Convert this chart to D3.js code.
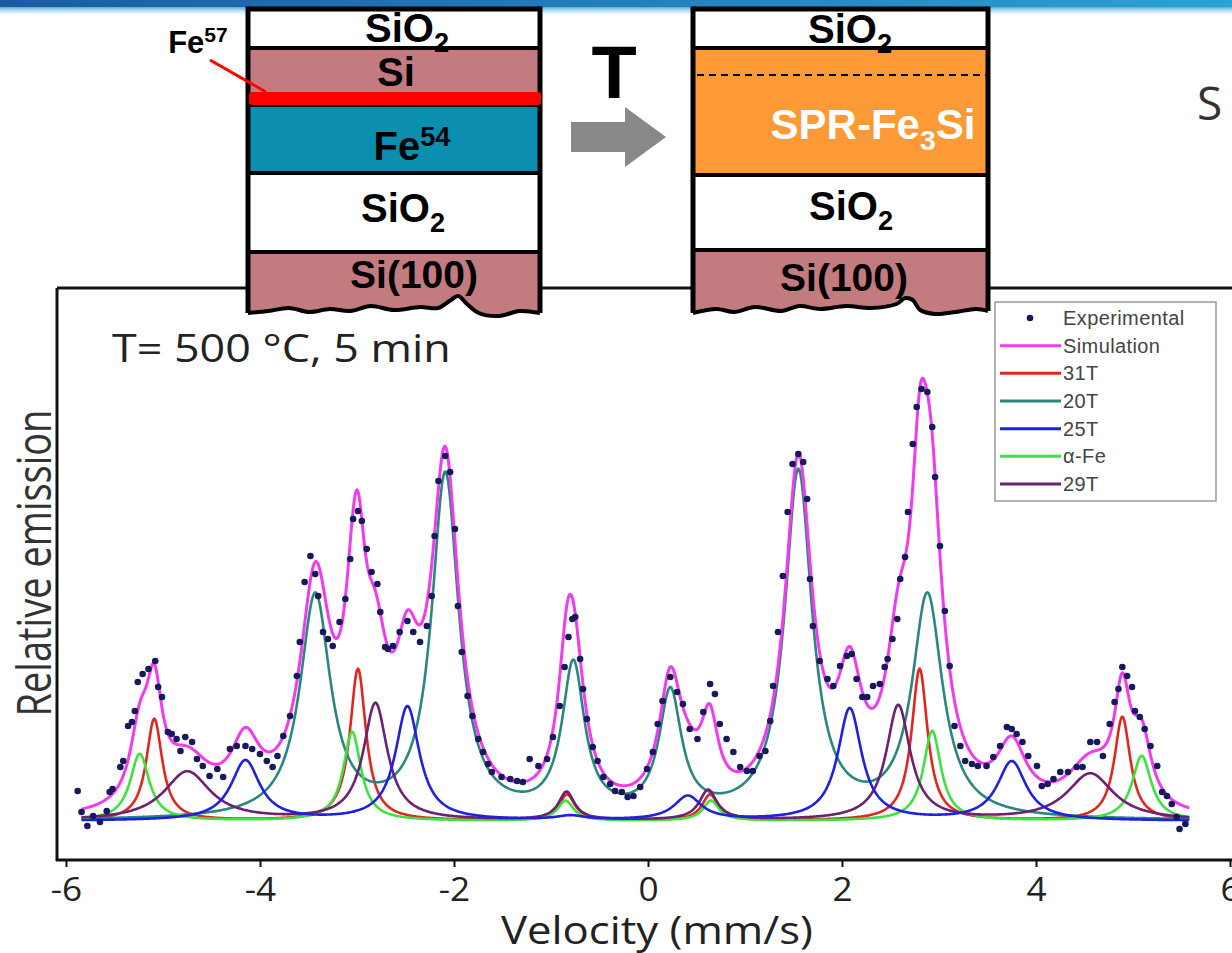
<!DOCTYPE html>
<html>
<head>
<meta charset="utf-8">
<script src="https://cdn.jsdelivr.net/npm/d3@7"></script>
<style>
  body { margin: 0; background: #fff; }
  svg { display: block; }
</style>
</head>
<body>
<svg width="1232" height="953"></svg>
<script>
// ---- data ----
const velocityTicks = [-6, -4, -2, 0, 2, 4, 6];

// sextet lines: position (mm/s), peak height (rel.), half width (mm/s)
const pos31T = [-5.09, -2.99, -0.835, 0.64, 2.80, 4.89];
const amp31T = [102, 152, 26, 26, 152, 104];
const hw31T  = [0.10, 0.10, 0.10, 0.10, 0.10, 0.10];

const pos20T = [-3.43, -2.09, -0.77, 0.23, 1.55, 2.88];
const amp20T = [222, 342, 150, 122, 345, 222];
const hw20T  = [0.19, 0.17, 0.14, 0.14, 0.17, 0.19];

const pos25T = [-4.15, -2.48, -0.80, 0.41, 2.08, 3.75];
const amp25T = [60, 114, 4, 24, 112, 59];
const hw25T  = [0.18, 0.15, 0.17, 0.17, 0.15, 0.18];

const posFe = [-5.24, -3.05, -0.85, 0.65, 2.93, 5.09];
const ampFe = [67, 89, 20, 20, 90, 65];
const hwFe  = [0.12, 0.11, 0.10, 0.10, 0.11, 0.12];

const pos29T = [-4.75, -2.81, -0.84, 0.62, 2.58, 4.56];
const amp29T = [49, 117, 28, 30, 115, 47];
const hw29T  = [0.29, 0.15, 0.10, 0.11, 0.15, 0.29];

// experimental points
const expVelocity = [-5.88,-5.84,-5.78,-5.72,-5.65,-5.58,-5.55,-5.52,-5.44,-5.41,-5.36,-5.32,-5.29,-5.26,-5.21,-5.15,-5.08,-5.05,-5.01,-4.95,
  -4.91,-4.86,-4.82,-4.77,-4.70,-4.65,-4.59,-4.52,-4.44,-4.38,-4.31,-4.24,-4.15,-4.08,-4.00,-3.93,-3.87,-3.82,-3.76,-3.69,
  -3.62,-3.59,-3.54,-3.48,-3.43,-3.40,-3.35,-3.30,-3.25,-3.18,-3.12,-3.07,-3.04,-2.99,-2.95,-2.90,-2.85,-2.79,-2.76,-2.71,
  -2.68,-2.63,-2.56,-2.48,-2.42,-2.35,-2.28,-2.23,-2.20,-2.16,-2.09,-2.04,-1.99,-1.96,-1.92,-1.86,-1.81,-1.75,-1.70,-1.65,
  -1.61,-1.51,-1.42,-1.35,-1.29,-1.22,-1.13,-1.04,-0.98,-0.91,-0.86,-0.82,-0.78,-0.75,-0.70,-0.67,-0.63,-0.57,-0.52,-0.46,
  -0.39,-0.34,-0.27,-0.21,-0.15,-0.08,-0.01,0.05,0.10,0.15,0.23,0.30,0.36,0.43,0.51,0.57,0.64,0.69,0.74,0.81,
  0.88,0.95,1.02,1.08,1.15,1.21,1.26,1.29,1.34,1.39,1.44,1.49,1.55,1.60,1.64,1.67,1.70,1.77,1.85,1.91,
  1.98,2.05,2.10,2.15,2.21,2.26,2.32,2.39,2.44,2.47,2.52,2.57,2.60,2.65,2.68,2.73,2.77,2.82,2.88,2.93,
  2.96,3.01,3.06,3.11,3.16,3.22,3.27,3.34,3.40,3.49,3.56,3.63,3.70,3.75,3.80,3.86,3.92,4.01,4.06,4.12,
  4.18,4.25,4.33,4.42,4.48,4.56,4.63,4.69,4.76,4.81,4.85,4.89,4.94,4.99,5.02,5.07,5.12,5.18,5.25,5.30,
  5.35,5.40,5.45,5.48,5.54];
const expEmission = [30,9,-5,5,-1,10,29,32,54,60,95,99,110,139,147,152,160,134,124,89,
  87,82,70,84,79,62,55,45,52,44,72,75,75,72,67,60,54,65,85,105,
  145,179,239,265,247,225,189,182,175,199,222,262,302,310,300,272,249,237,209,174,
  172,175,189,200,189,179,195,225,285,340,365,349,292,215,169,125,105,82,69,57,
  49,44,42,40,39,62,55,62,84,115,154,184,202,204,162,132,102,74,60,44,
  37,30,29,24,25,34,52,69,97,120,144,129,117,92,82,109,137,127,97,82,
  69,54,50,50,65,70,100,135,189,245,309,357,367,359,322,242,195,160,142,135,
  155,165,167,142,124,124,135,137,154,162,182,202,242,264,309,377,414,432,429,394,
  344,275,210,155,95,75,60,57,55,55,64,75,94,92,87,79,65,55,35,37,
  42,49,49,54,54,79,79,65,97,119,132,154,145,134,110,104,92,75,55,29,
  25,17,4,-8,-3];

const legendNames = ["Simulation", "31T", "20T", "25T", "α-Fe", "29T"];

// ---- drawing ----
const svg = d3.select("svg");
const width = +svg.attr("width");

const colors = {
  "Simulation": "#ee3cee", "31T": "#e0261f", "20T": "#2b877d",
  "25T": "#2020dd", "α-Fe": "#3fe03f", "29T": "#6c2270"
};

const components = [
  { name: "31T", pos: pos31T, amp: amp31T, hw: hw31T },
  { name: "20T", pos: pos20T, amp: amp20T, hw: hw20T },
  { name: "α-Fe", pos: posFe, amp: ampFe, hw: hwFe },
  { name: "29T", pos: pos29T, amp: amp29T, hw: hw29T },
  { name: "25T", pos: pos25T, amp: amp25T, hw: hw25T }
];

function sextet(c, v) {
  return d3.sum(c.pos, (p, i) => c.amp[i] / (1 + ((v - p) / c.hw[i]) ** 2));
}

const x = d3.scaleLinear().domain([-6, 6]).range([66, 1230]);
const y = d3.scaleLinear().domain([0, 440]).range([821, 381]);

// slide header band
const defs = svg.append("defs");
const hg = defs.append("linearGradient").attr("id", "hband");
hg.append("stop").attr("offset", "0%").attr("stop-color", "#1a5ba4");
hg.append("stop").attr("offset", "100%").attr("stop-color", "#2aa2d6");
const vg = defs.append("linearGradient").attr("id", "vfade").attr("x1", 0).attr("x2", 0).attr("y1", 0).attr("y2", 1);
vg.append("stop").attr("offset", "0%").attr("stop-color", "#4aa6da").attr("stop-opacity", 0.95);
vg.append("stop").attr("offset", "100%").attr("stop-color", "#ffffff").attr("stop-opacity", 0);
svg.append("rect").attr("x", 0).attr("y", 0).attr("width", width).attr("height", 7).attr("fill", "url(#hband)");
svg.append("rect").attr("x", 0).attr("y", 7).attr("width", width).attr("height", 10).attr("fill", "url(#vfade)");

// plot frame
const frame = svg.append("g").attr("stroke", "#111").attr("stroke-width", 3);
frame.append("line").attr("x1", 57).attr("x2", 57).attr("y1", 288).attr("y2", 861);
frame.append("line").attr("x1", 57).attr("x2", width).attr("y1", 288).attr("y2", 288);
frame.append("line").attr("x1", 56).attr("x2", width).attr("y1", 860).attr("y2", 860);

const xAxis = svg.append("g")
  .attr("transform", "translate(0,860)")
  .call(d3.axisBottom(x).tickValues(velocityTicks).tickSize(7).tickFormat(d => String(d)));
xAxis.select(".domain").remove();
xAxis.selectAll(".tick line").attr("stroke", "#111").attr("stroke-width", 2);
xAxis.selectAll(".tick text")
  .attr("y", 41).attr("dy", 0)
  .attr("transform", "scale(1.1,1)")
  .attr("font-family", "'Open Sans', sans-serif")
  .attr("font-size", 32)
  .attr("fill", "#222");

svg.append("text")
  .attr("transform", "translate(657,944) scale(1.12,1)")
  .attr("text-anchor", "middle")
  .attr("font-family", "'Open Sans', sans-serif")
  .attr("font-size", 39)
  .attr("fill", "#222")
  .text("Velocity (mm/s)");

svg.append("text")
  .attr("transform", "translate(51,563) scale(1.25,1) rotate(-90)")
  .attr("text-anchor", "middle")
  .attr("font-family", "'Open Sans', sans-serif")
  .attr("font-size", 38)
  .attr("fill", "#333")
  .text("Relative emission");

svg.append("text")
  .attr("transform", "translate(112,362) scale(1.15,1)")
  .attr("font-family", "'Open Sans', sans-serif")
  .attr("font-size", 39)
  .attr("fill", "#222")
  .text("T= 500 °C, 5 min");

// curves
const vGrid = d3.range(-5.84, 5.585, 0.01);
const line = d3.line().x(d => x(d[0])).y(d => y(d[1]));

const curves = svg.append("g").attr("fill", "none").attr("stroke-linejoin", "round");
components.forEach(c => {
  curves.append("path")
    .datum(vGrid.map(v => [v, sextet(c, v)]))
    .attr("stroke", colors[c.name])
    .attr("stroke-width", 2.6)
    .attr("d", line);
});

curves.append("path")
  .datum(vGrid.map(v => [v, d3.sum(components, c => sextet(c, v))]))
  .attr("stroke", colors["Simulation"])
  .attr("stroke-width", 3)
  .attr("d", line);

svg.append("g")
  .selectAll("circle")
  .data(expVelocity.map((v, i) => [v, expEmission[i]]))
  .enter().append("circle")
  .attr("cx", d => x(d[0]))
  .attr("cy", d => y(d[1]))
  .attr("r", 3.3)
  .attr("fill", "#18185e");

// legend
const legend = svg.append("g");
legend.append("rect")
  .attr("x", 995).attr("y", 302).attr("width", 221).attr("height", 199)
  .attr("fill", "#fff").attr("stroke", "#999").attr("stroke-width", 1.5);
const rowY = d3.scalePoint().domain(["Experimental"].concat(legendNames)).range([318, 484]);
legend.append("circle")
  .attr("cx", 1030).attr("cy", rowY("Experimental")).attr("r", 3.3).attr("fill", "#18185e");
legendNames.forEach(n => {
  legend.append("line")
    .attr("x1", 1000).attr("x2", 1061)
    .attr("y1", rowY(n)).attr("y2", rowY(n))
    .attr("stroke", colors[n]).attr("stroke-width", 3);
});
legend.selectAll("text")
  .data(["Experimental"].concat(legendNames))
  .enter().append("text")
  .attr("x", 1063)
  .attr("y", d => rowY(d) + 7)
  .attr("font-family", "'Liberation Sans', Arial, sans-serif")
  .attr("font-size", 20)
  .attr("letter-spacing", 0.4)
  .attr("fill", "#444")
  .text(d => d);

// ---- layer stacks (sample schematic) ----
const pink = "#c47b80", teal = "#0b8eb0", orange = "#fd9a36";

function chem(g, cx, by, parts, size, fill, spacing) {
  const t = g.append("text")
    .attr("x", cx).attr("y", by)
    .attr("text-anchor", "middle")
    .attr("font-family", "'Liberation Sans', Arial, sans-serif")
    .attr("font-weight", "bold")
    .attr("font-size", size)
    .attr("letter-spacing", spacing || 0)
    .attr("fill", fill || "#000");
  let shift = 0;
  parts.forEach(p => {
    const s = t.append("tspan").text(p[0]);
    let target = 0;
    if (p[1] === "sub") { s.attr("font-size", size * 0.68); target = size * 0.26; }
    if (p[1] === "sup") { s.attr("font-size", size * 0.68); target = -size * 0.36; }
    s.attr("dy", target - shift);
    shift = target;
  });
}

function stack(x0, x1, layers, wave) {
  const g = svg.append("g");
  layers.forEach(l => {
    g.append("rect").attr("x", x0).attr("y", l[0]).attr("width", x1 - x0).attr("height", l[1] - l[0]).attr("fill", l[2]);
  });
  const yb = layers[layers.length - 1][1];
  const sub = wave.map(p => [x0 + p[0] * (x1 - x0), p[1]]);
  const path = d3.path();
  path.moveTo(x0, yb);
  path.lineTo(x1, yb);
  sub.slice().reverse().forEach(p => path.lineTo(p[0], p[1]));
  path.closePath();
  g.append("path").attr("d", path.toString()).attr("fill", pink);
  layers.forEach((l, i) => {
    if (i === 0) return;
    g.append("line").attr("x1", x0).attr("x2", x1).attr("y1", l[0]).attr("y2", l[0])
      .attr("stroke", "#000").attr("stroke-width", 4);
  });
  g.append("line").attr("x1", x0).attr("x2", x1).attr("y1", layers[0][0]).attr("y2", layers[0][0])
    .attr("stroke", "#000").attr("stroke-width", 5);
  g.append("line").attr("x1", x0).attr("x2", x1).attr("y1", yb).attr("y2", yb)
    .attr("stroke", "#000").attr("stroke-width", 4);
  const side = d3.line().curve(d3.curveCatmullRom);
  g.append("path")
    .attr("d", side(sub))
    .attr("fill", "none").attr("stroke", "#000").attr("stroke-width", 4);
  [x0, x1].forEach(xx => {
    g.append("line").attr("x1", xx).attr("x2", xx).attr("y1", layers[0][0] - 2.5)
      .attr("y2", xx === x0 ? sub[0][1] : sub[sub.length - 1][1])
      .attr("stroke", "#000").attr("stroke-width", 5);
  });
  return g;
}

// left: as-deposited
const waveL = [[0, 313], [0.07, 311], [0.14, 308], [0.21, 312], [0.28, 309], [0.35, 311], [0.42, 306],
  [0.5, 310], [0.59, 307], [0.65, 308], [0.69, 301], [0.72, 296], [0.75, 304], [0.79, 313], [0.86, 316], [0.93, 311], [1, 313]];
const left = stack(248, 540, [[9, 48, "#fff"], [48, 105, pink], [105, 173, teal], [173, 252, "#fff"], [252, 252, pink]], waveL);
left.append("rect").attr("x", 249).attr("y", 92).attr("width", 292).attr("height", 13).attr("rx", 3).attr("fill", "#ff0000");
chem(left, 407, 42, [["SiO"], ["2", "sub"]], 40);
chem(left, 396, 86, [["Si"]], 40);
chem(left, 412, 160, [["Fe"], ["54", "sup"]], 40);
chem(left, 403, 222, [["SiO"], ["2", "sub"]], 40);
chem(left, 414, 288, [["Si(100)"]], 39);
chem(left, 198, 53, [["Fe"], ["57", "sup"]], 31);
left.append("line").attr("x1", 210).attr("y1", 60).attr("x2", 266).attr("y2", 92)
  .attr("stroke", "#ff0000").attr("stroke-width", 3);

// arrow + T
svg.append("path")
  .attr("d", "M571,122 L625,122 L625,107 L666,137 L625,167 L625,152 L571,152 Z")
  .attr("fill", "#888");
svg.append("text")
  .attr("x", 614).attr("y", 98)
  .attr("text-anchor", "middle")
  .attr("font-family", "'Liberation Sans', Arial, sans-serif")
  .attr("font-weight", "bold")
  .attr("font-size", 74)
  .text("T");

// right: annealed
const waveR = [[0, 313], [0.08, 309], [0.14, 312], [0.21, 307], [0.3, 311], [0.36, 306], [0.43, 309],
  [0.52, 306], [0.6, 308], [0.69, 304], [0.72, 298], [0.745, 300], [0.77, 310], [0.82, 314], [0.89, 312], [0.96, 309], [1, 311]];
const right = stack(693, 988, [[9, 48, "#fff"], [48, 175, orange], [175, 250, "#fff"], [250, 250, pink]], waveR);
right.append("line").attr("x1", 697).attr("x2", 986).attr("y1", 75).attr("y2", 75)
  .attr("stroke", "#000").attr("stroke-width", 1.8).attr("stroke-dasharray", "7,5");
chem(right, 850, 43, [["SiO"], ["2", "sub"]], 40);
chem(right, 873, 139, [["SPR-Fe"], ["3", "sub"], ["Si"]], 42, "#fff");
chem(right, 851, 220, [["SiO"], ["2", "sub"]], 40);
chem(right, 844, 291, [["Si(100)"]], 39);

// clipped slide title text on the right
svg.append("text")
  .attr("x", 1197).attr("y", 120)
  .attr("font-family", "'Open Sans', sans-serif")
  .attr("font-size", 46)
  .attr("fill", "#333")
  .text("S");
</script>
</body>
</html>
